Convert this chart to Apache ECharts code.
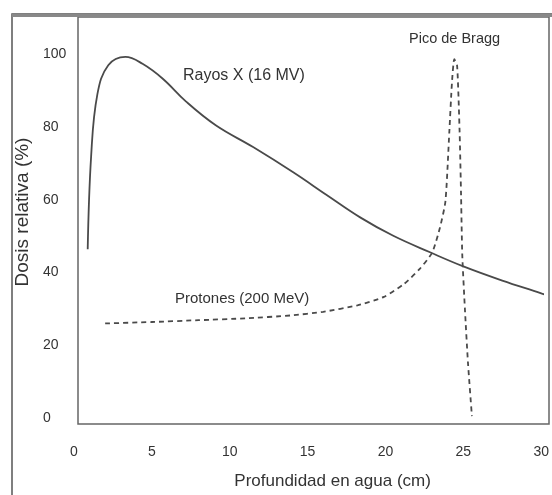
<!DOCTYPE html>
<html>
<head>
<meta charset="utf-8">
<script src="https://cdn.jsdelivr.net/npm/echarts@6/dist/echarts.min.js"></script>
<style>
html,body{margin:0;padding:0;background:#fff;}
#chart{width:552px;height:495px;}
</style>
</head>
<body>
<div id="chart"></div>
<script>
// Data
const xrayDepth = [0.88, 1.1, 1.5, 2.2, 3.3, 4.4, 5.7, 7.2, 9.1, 11.5, 14.1, 16.2, 18.4, 20.5, 22.9, 25.0, 27.5, 30.0, 30.45];
const xrayDose  = [46.4, 72.0, 89.0, 97.0, 99.3, 97.4, 93.3, 87.0, 80.5, 74.5, 67.5, 61.4, 55.1, 50.1, 45.5, 41.7, 37.8, 34.3, 33.6];
const protonDepth = [2.0, 5.0, 8.0, 11.0, 13.9, 16.0, 18.2, 19.9, 21.2, 22.2, 23.0, 23.5, 23.85, 24.1, 24.27, 24.42, 24.6, 24.76, 24.85, 24.93, 25.1, 25.3, 25.55];
const protonDose  = [26.0, 26.4, 26.9, 27.4, 28.2, 29.2, 31.0, 33.3, 36.9, 41.0, 45.5, 52.4, 59.6, 78.7, 92.3, 98.7, 96.9, 78.7, 62.0, 45.0, 30.0, 15.0, 0.5];
const xTicks = [0, 5, 10, 15, 20, 25, 30];
const yTicks = [0, 20, 40, 60, 80, 100];
const xName = 'Profundidad en agua (cm)';
const yName = 'Dosis relativa (%)';
const xrayLabel = 'Rayos X (16 MV)';
const protonLabel = 'Protones (200 MeV)';
const peakLabel = 'Pico de Bragg';

const zip = (a, b) => a.map((v, i) => [v, b[i]]);
const chart = echarts.init(document.getElementById('chart'), null, {renderer: 'canvas'});
const lineColor = '#4a4a4a';
const textColor = '#333';
const font = 'Liberation Sans, Arial, sans-serif';

chart.setOption({
  animation: false,
  backgroundColor: '#fff',
  grid: {left: 74, right: 10, top: 18, bottom: 73, containLabel: false},
  xAxis: {
    type: 'value', min: xTicks[0], max: xTicks[xTicks.length - 1], interval: 5,
    axisLine: {show: false}, axisTick: {show: false}, splitLine: {show: false},
    axisLabel: {margin: 27, color: textColor, fontSize: 14, fontFamily: font},
    name: xName, nameLocation: 'middle', nameGap: 55,
    nameTextStyle: {color: textColor, fontSize: 17, fontFamily: font, padding: [0, 0, 0, 50]}
  },
  yAxis: {
    type: 'value', min: yTicks[0], max: 110, interval: 20,
    axisLine: {show: false}, axisTick: {show: false}, splitLine: {show: false},
    axisLabel: {margin: 31, align: 'left', color: textColor, fontSize: 14, fontFamily: font, showMaxLabel: false,
      formatter: v => (yTicks.indexOf(v) >= 0 ? String(v) : '')},
    name: yName, nameLocation: 'middle', nameGap: 41,
    nameTextStyle: {color: textColor, fontSize: 19, fontFamily: font, padding: [0, 0, 0, 12]}
  },
  graphic: [
    {type: 'rect', shape: {x: 12, y: 14, width: 600, height: 600}, style: {fill: 'none', stroke: '#555', lineWidth: 1.5}, silent: true},
    {type: 'rect', shape: {x: 78, y: 17, width: 471, height: 407}, style: {fill: 'none', stroke: '#666', lineWidth: 1.5}, silent: true},
    {type: 'rect', shape: {x: 12, y: 14, width: 600, height: 3}, style: {fill: '#888'}, silent: true},
    {type: 'text', left: 183, top: 68, style: {text: xrayLabel, fill: textColor, fontSize: 16, fontFamily: font}},
    {type: 'text', left: 175, top: 291, style: {text: protonLabel, fill: textColor, fontSize: 15, fontFamily: font}},
    {type: 'text', left: 409, top: 31, style: {text: peakLabel, fill: textColor, fontSize: 14.5, fontFamily: font}}
  ],
  series: [
    {type: 'line', data: zip(xrayDepth, xrayDose), smooth: 0.4, showSymbol: false, clip: false,
      lineStyle: {color: lineColor, width: 1.8}},
    {type: 'line', data: zip(protonDepth, protonDose), smooth: 0.2, showSymbol: false,
      lineStyle: {color: lineColor, width: 1.8, type: [5, 4]}}
  ]
});
</script>
</body>
</html>
